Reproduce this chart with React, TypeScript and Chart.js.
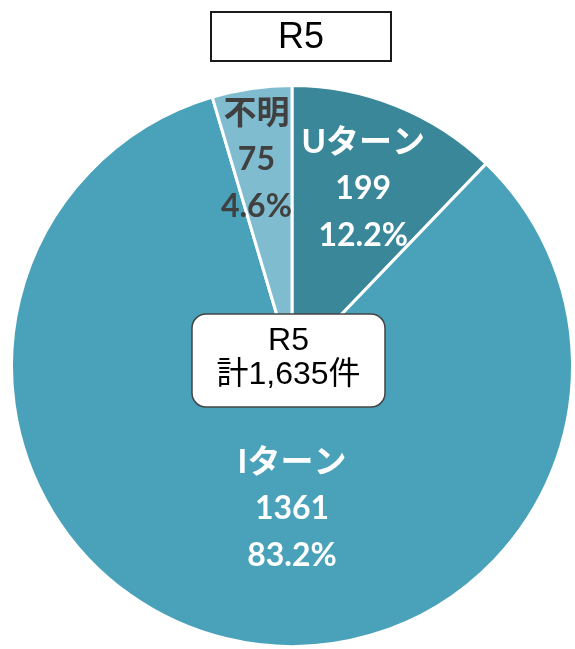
import React, { useEffect, useRef } from "react";
import { Chart, registerables } from "chart.js";

Chart.register(...registerables);

const categories = ["Uターン", "Iターン", "不明"];
const values = [199, 1361, 75];
const colors = ["#3A879A", "#49A2B9", "#7FBCD0"];
const labelColors = ["#FFFFFF", "#FFFFFF", "#404040"];
const yearLabel = "R5";

// label placement: [angle in degrees (canvas, null = slice mid), radius fraction]
const labelPlacement: [number | null, number][] = [
  [null, 0.68],
  [90, 0.51],
  [-99.8, 0.745],
];

const total = values.reduce((a, b) => a + b, 0);

const jpFont = "'Noto Sans CJK JP'";
const numFont = "Lato, 'Noto Sans CJK JP'";

const overlayPlugin = {
  id: "overlay",
  afterDraw(chart: any) {
    const ctx = chart.ctx as CanvasRenderingContext2D;
    const meta = chart.getDatasetMeta(0);
    ctx.save();
    ctx.textAlign = "center";
    ctx.textBaseline = "middle";
    meta.data.forEach((arc: any, i: number) => {
      const p = arc.getProps(["x", "y", "startAngle", "endAngle", "outerRadius"], true);
      const [ang, frac] = labelPlacement[i];
      const a = ang === null ? (p.startAngle + p.endAngle) / 2 : (ang * Math.PI) / 180;
      const r = p.outerRadius * frac;
      const cx = p.x + Math.cos(a) * r;
      const cy = p.y + Math.sin(a) * r;
      const gap = 47;
      ctx.fillStyle = labelColors[i];
      ctx.font = `bold 33px ${numFont}`;
      ctx.fillText(categories[i], cx, cy - gap);
      ctx.font = `bold 32px ${numFont}`;
      ctx.fillText(String(values[i]), cx, cy);
      ctx.fillText(((values[i] / total) * 100).toFixed(1) + "%", cx, cy + gap);
    });

    // title box
    ctx.fillStyle = "#FFFFFF";
    ctx.fillRect(211, 12, 180, 49);
    ctx.strokeStyle = "#1A1A1A";
    ctx.lineWidth = 2;
    ctx.strokeRect(211, 12, 180, 49);
    ctx.fillStyle = "#000000";
    ctx.font = `36px 'Liberation Sans', Arial, sans-serif`;
    ctx.fillText(yearLabel, 301, 38);

    // center box
    const c = meta.data[0];
    const bx = c.x - 100;
    const by = c.y - 52;
    ctx.beginPath();
    (ctx as any).roundRect(bx, by, 193, 93, 14);
    ctx.fillStyle = "#FFFFFF";
    ctx.fill();
    ctx.strokeStyle = "#444444";
    ctx.lineWidth = 1.5;
    ctx.stroke();
    ctx.fillStyle = "#000000";
    ctx.font = `32px 'Liberation Sans', ${jpFont}`;
    ctx.fillText(yearLabel, bx + 96.5, by + 27);
    ctx.fillText(`計${total.toLocaleString("en-US")}件`, bx + 96.5, by + 61);
    ctx.restore();
  },
};

export default function App() {
  const ref = useRef<HTMLCanvasElement>(null);
  useEffect(() => {
    if (!ref.current) return;
    const chart = new Chart(ref.current, {
      type: "pie",
      data: {
        labels: categories,
        datasets: [
          {
            data: values,
            backgroundColor: colors,
            borderColor: "#FFFFFF",
            borderWidth: 3,
          },
        ],
      },
      options: {
        responsive: false,
        animation: false,
        layout: { padding: { left: 10, right: 1, top: 84, bottom: 1 } },
        plugins: {
          legend: { display: false },
          tooltip: { enabled: false },
        },
      },
      plugins: [overlayPlugin],
    });
    return () => chart.destroy();
  }, []);
  return (
    <div style={{ position: "absolute", left: 0, top: 0, width: 575, height: 649, background: "#fff" }}>
      <canvas ref={ref} width={575} height={649} style={{ display: "block" }} />
    </div>
  );
}
